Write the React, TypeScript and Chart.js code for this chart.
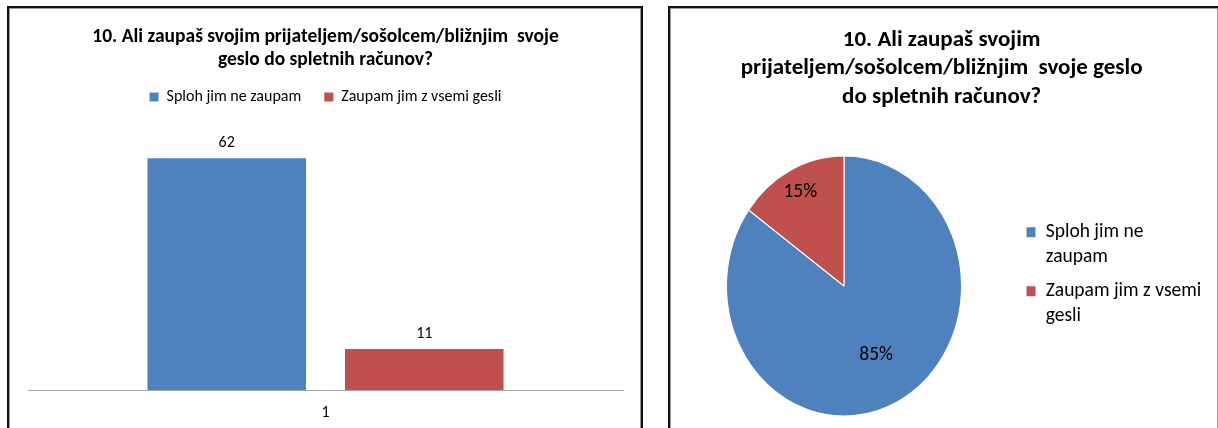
import React, { useEffect, useRef } from "react";
import { Chart, registerables } from "chart.js";
Chart.register(...registerables);

const FONT = "Carlito";

const barTitle = ["10. Ali zaupaš svojim prijateljem/sošolcem/bližnjim  svoje", "geslo do spletnih računov?"];
const pieTitle = ["10. Ali zaupaš svojim", "prijateljem/sošolcem/bližnjim  svoje geslo", "do spletnih računov?"];
const categories = ["1"];
const seriesNames = ["Sploh jim ne zaupam", "Zaupam jim z vsemi gesli"];
const seriesValues = [62, 11];
const pieLegendLines = [["Sploh jim ne", "zaupam"], ["Zaupam jim z vsemi", "gesli"]];
const seriesColors = ["#4F81BD", "#C0504D"];

const PIE_STRETCH = 1.106;
const LABEL_RADIUS = [0.6, 0.815];

const PIE_LEGEND_FONT = 19.5;
const PIE_LEGEND_PAD = 10;
const PIE_LEGEND_BOX = 10;

const barLabels = {
  id: "barLabels",
  afterDatasetsDraw(chart: any) {
    const ctx = chart.ctx;
    ctx.save();
    ctx.font = `16px ${FONT}`;
    ctx.fillStyle = "#000";
    ctx.textAlign = "center";
    ctx.textBaseline = "middle";
    chart.data.datasets.forEach((ds: any, i: number) => {
      chart.getDatasetMeta(i).data.forEach((bar: any, j: number) => {
        ctx.fillText(String(ds.data[j]), bar.x, bar.y - 15);
      });
    });
    ctx.restore();
  },
};

const pieStretch = {
  id: "pieStretch",
  beforeDatasetsDraw(chart: any) {
    const { ctx, chartArea } = chart;
    ctx.save();
    ctx.translate(0, chartArea.top);
    ctx.scale(1, PIE_STRETCH);
    ctx.translate(0, -chartArea.top);
  },
  afterDatasetsDraw(chart: any) {
    const { ctx, chartArea } = chart;
    ctx.restore();
    const meta = chart.getDatasetMeta(0);
    const vals = chart.data.datasets[0].data as number[];
    const total = vals.reduce((a, b) => a + b, 0);
    ctx.save();
    ctx.font = `19.5px ${FONT}`;
    ctx.fillStyle = "#000";
    ctx.textAlign = "center";
    ctx.textBaseline = "middle";
    meta.data.forEach((arc: any, i: number) => {
      const mid = (arc.startAngle + arc.endAngle) / 2;
      const r = arc.outerRadius * LABEL_RADIUS[i];
      const x = arc.x + Math.cos(mid) * r;
      const y0 = arc.y + Math.sin(mid) * r;
      const y = chartArea.top + (y0 - chartArea.top) * PIE_STRETCH;
      ctx.fillText(Math.round((vals[i] / total) * 100) + "%", x, y);
    });
    ctx.restore();
  },
};

export default function App() {
  const barRef = useRef<HTMLCanvasElement>(null);
  const pieRef = useRef<HTMLCanvasElement>(null);

  useEffect(() => {
    const mctx = document.createElement("canvas").getContext("2d")!;
    mctx.font = `normal ${PIE_LEGEND_FONT}px ${FONT}`;
    const tw = Math.max(
      ...pieLegendLines.map((l) => mctx.measureText(l.reduce((a, b) => (a.length > b.length ? a : b))).width)
    );
    const legendW = PIE_LEGEND_PAD + PIE_LEGEND_BOX + PIE_LEGEND_FONT / 2 + tw + 10;
    const padRight = Math.max(0, 546 - 345 - legendW);

    const bar = new Chart(barRef.current!, {
      type: "bar",
      data: {
        labels: categories,
        datasets: seriesNames.map((name, i) => ({
          label: name,
          data: [seriesValues[i]],
          backgroundColor: seriesColors[i],
          borderWidth: 0,
          categoryPercentage: 0.664,
          barPercentage: 0.8025,
        })),
      },
      options: {
        responsive: false,
        animation: false,
        layout: { padding: { left: 18, right: 17, top: 0, bottom: 7 } },
        plugins: {
          title: {
            display: true,
            text: barTitle,
            color: "#000",
            font: { family: FONT, size: 19.5, weight: "bold", lineHeight: "23px" },
            padding: { top: 16.5, bottom: -5.5 },
          },
          legend: {
            position: "top",
            labels: { boxWidth: 9, boxHeight: 9, padding: 23, color: "#000", font: { family: FONT, size: 16 } },
          },
          tooltip: { enabled: false },
        },
        scales: {
          x: {
            grid: { display: false, drawTicks: false },
            border: { display: true, color: "#A6A6A6", width: 1 },
            ticks: { color: "#000", font: { family: FONT, size: 16 }, padding: 13.4 },
          },
          y: { display: false, min: 0, max: 73.6 },
        },
      } as any,
      plugins: [barLabels],
    });

    const pie = new Chart(pieRef.current!, {
      type: "pie",
      data: {
        labels: pieLegendLines as any,
        datasets: [
          {
            data: seriesValues,
            backgroundColor: seriesColors,
            borderColor: "#fff",
            borderWidth: 1,
            radius: 117.5,
          },
        ],
      },
      options: {
        responsive: false,
        animation: false,
        layout: { padding: { left: 1, right: padRight, top: 0, bottom: 54.17 } },
        plugins: {
          title: {
            display: true,
            text: pieTitle,
            color: "#000",
            font: { family: FONT, size: 23, weight: "bold", lineHeight: "28.5px" },
            padding: { top: 16.75, bottom: 3 },
          },
          legend: {
            position: "right",
            fullSize: false,
            title: { display: true, text: "", padding: 0, font: { family: FONT, size: 14, lineHeight: "14px" } },
            labels: {
              boxWidth: PIE_LEGEND_BOX,
              boxHeight: 11,
              padding: PIE_LEGEND_PAD,
              color: "#000",
              font: { family: FONT, size: PIE_LEGEND_FONT, lineHeight: "24.5px" },
            },
          },
          tooltip: { enabled: false },
        },
      } as any,
      plugins: [pieStretch],
    });

    return () => {
      bar.destroy();
      pie.destroy();
    };
  }, []);

  const panelBase: React.CSSProperties = {
    position: "absolute",
    top: 6,
    height: 480,
    boxSizing: "border-box",
    border: "2px solid #111",
    boxShadow: "inset 0 0 0 1px #9a9a9a",
    background: "#fff",
  };

  return (
    <div style={{ position: "fixed", left: 0, top: 0, width: 1218, height: 428, overflow: "hidden", background: "#fff" }}>
      <div style={{ ...panelBase, left: 7, width: 636 }}>
        <canvas ref={barRef} width={630} height={434} style={{ position: "absolute", left: 1, top: 1, display: "block" }} />
      </div>
      <div style={{ ...panelBase, left: 668, width: 552 }}>
        <canvas ref={pieRef} width={546} height={470} style={{ position: "absolute", left: 1, top: 1, display: "block" }} />
      </div>
    </div>
  );
}
